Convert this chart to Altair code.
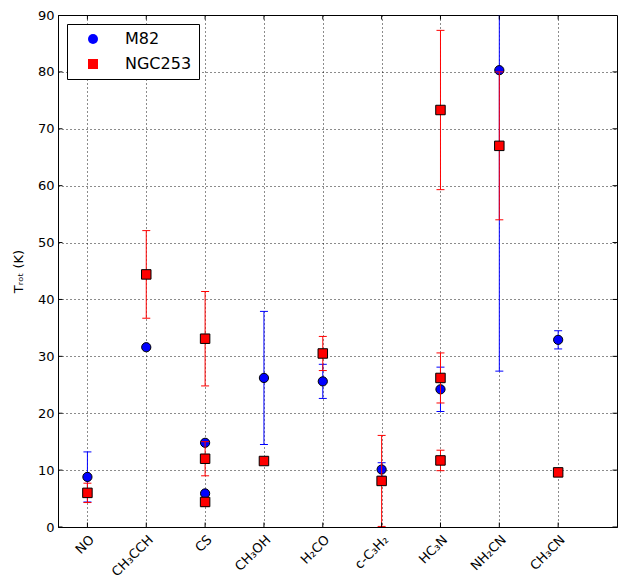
import json
import altair as alt
import pandas as pd

categories = ["NO", "CH₃CCH", "CS", "CH₃OH", "H₂CO", "c-C₃H₂", "HC₃N", "NH₂CN", "CH₃CN"]

m82_idx = [0, 1, 2, 2, 3, 4, 5, 6, 7, 8]
m82_val = [8.8, 31.6, 14.8, 5.9, 26.2, 25.6, 10.1, 24.2, 80.3, 32.9]
m82_err = [4.4, 0, 0, 0, 11.7, 3.0, 1.2, 3.9, 52.9, 1.6]

ngc_idx = [0, 1, 2, 2, 2, 3, 4, 5, 6, 6, 6, 7, 8]
ngc_val = [6.0, 44.4, 33.1, 12.0, 4.4, 11.6, 30.5, 8.1, 73.3, 26.2, 11.7, 67.0, 9.6]
ngc_err = [1.7, 7.7, 8.3, 3.0, 0.8, 0, 3.0, 8.0, 14.0, 4.4, 1.8, 13.0, 0]

y_ticks = list(range(0, 91, 10))
x_ticks = list(range(len(categories)))
x_limits = [-0.5, 9]
y_limits = [0, 90]

galaxies = ["M82", "NGC253"]
colors = ["blue", "red"]
shapes = ["circle", "square"]

rows = []
for g, idx, val, err in [("M82", m82_idx, m82_val, m82_err), ("NGC253", ngc_idx, ngc_val, ngc_err)]:
    for i, v, e in zip(idx, val, err):
        rows.append({"galaxy": g, "x": i, "y": v, "lo": v - e, "hi": v + e, "err": e})
df = pd.DataFrame(rows)

label_expr = json.dumps(categories, ensure_ascii=False) + "[datum.value]"

xscale = alt.Scale(domain=x_limits, nice=False, zero=False)
yscale = alt.Scale(domain=y_limits, nice=False, zero=True)

xenc = alt.X("x:Q", scale=xscale,
             axis=alt.Axis(values=x_ticks, labelExpr=label_expr,
                           labelAngle=-45, labelAlign="right", labelBaseline="top",
                           title=None, tickSize=0, labelPadding=6, labelFontSize=13))
yenc_axis = alt.Axis(values=y_ticks, title="Tᵣₒₜ (K)", tickSize=0,
                     labelPadding=4, labelFontSize=13, titleFontSize=13,
                     titleFontWeight="normal", titlePadding=12)

color_enc = alt.Color("galaxy:N", scale=alt.Scale(domain=galaxies, range=colors),
                      legend=alt.Legend(title=None, orient="none", legendX=9, legendY=9))
shape_enc = alt.Shape("galaxy:N", scale=alt.Scale(domain=galaxies, range=shapes))

base = alt.Chart(df)

layers = []
for g, c, s, sz in [("M82", "blue", "circle", 85), ("NGC253", "red", "square", 90)]:
    sub = base.transform_filter(alt.datum.galaxy == g)
    bars = sub.transform_filter(alt.datum.err > 0)
    rule = bars.mark_rule(color=c, strokeWidth=1, clip=True).encode(
        x=xenc, y=alt.Y("lo:Q", scale=yscale, axis=yenc_axis), y2="hi:Q")
    cap_lo = bars.mark_tick(color=c, orient="horizontal", size=8, thickness=1, opacity=1, clip=True).encode(
        x=xenc, y=alt.Y("lo:Q", scale=yscale))
    cap_hi = bars.mark_tick(color=c, orient="horizontal", size=8, thickness=1, opacity=1, clip=True).encode(
        x=xenc, y=alt.Y("hi:Q", scale=yscale))
    pts = sub.mark_point(filled=True, opacity=1, size=sz, stroke="black", strokeWidth=1).encode(
        x=xenc, y=alt.Y("y:Q", scale=yscale), color=color_enc, shape=shape_enc)
    layers += [rule, cap_lo, cap_hi, pts]

# inward-pointing axis ticks on all four sides (clipped halves of ticks on the frame)
xt = pd.DataFrame([{"x": v, "y": e} for v in x_ticks for e in y_limits])
yt = pd.DataFrame([{"x": e, "y": v} for v in y_ticks for e in x_limits])
tick_x = alt.Chart(xt).mark_tick(color="black", orient="vertical", size=9, thickness=1,
                                 opacity=1, clip=True).encode(
    x=alt.X("x:Q", scale=xscale), y=alt.Y("y:Q", scale=yscale))
tick_y = alt.Chart(yt).mark_tick(color="black", orient="horizontal", size=9, thickness=1,
                                 opacity=1, clip=True).encode(
    x=alt.X("x:Q", scale=xscale), y=alt.Y("y:Q", scale=yscale))

chart = alt.layer(*layers, tick_x, tick_y).properties(
    width=559, height=512,
    autosize=alt.AutoSizeParams(type="none"),
    padding={"left": 50, "top": 7, "right": 5, "bottom": 52},
).configure_view(
    stroke="black", strokeWidth=1
).configure_axis(
    labelFont="DejaVu Sans", titleFont="DejaVu Sans", labelColor="black", titleColor="black",
    domainColor="black", grid=True, gridColor="black", gridDash=[1, 3], gridOpacity=0.9,
).configure_legend(
    labelFont="DejaVu Sans", labelFontSize=16, labelColor="black",
    strokeColor="black", fillColor="white", padding=7, cornerRadius=0,
    symbolSize=100, symbolStrokeWidth=0, symbolOffset=11, labelOffset=24, rowPadding=9,
)

chart.save("out.html", embed_options={"renderer": "svg", "actions": False})
